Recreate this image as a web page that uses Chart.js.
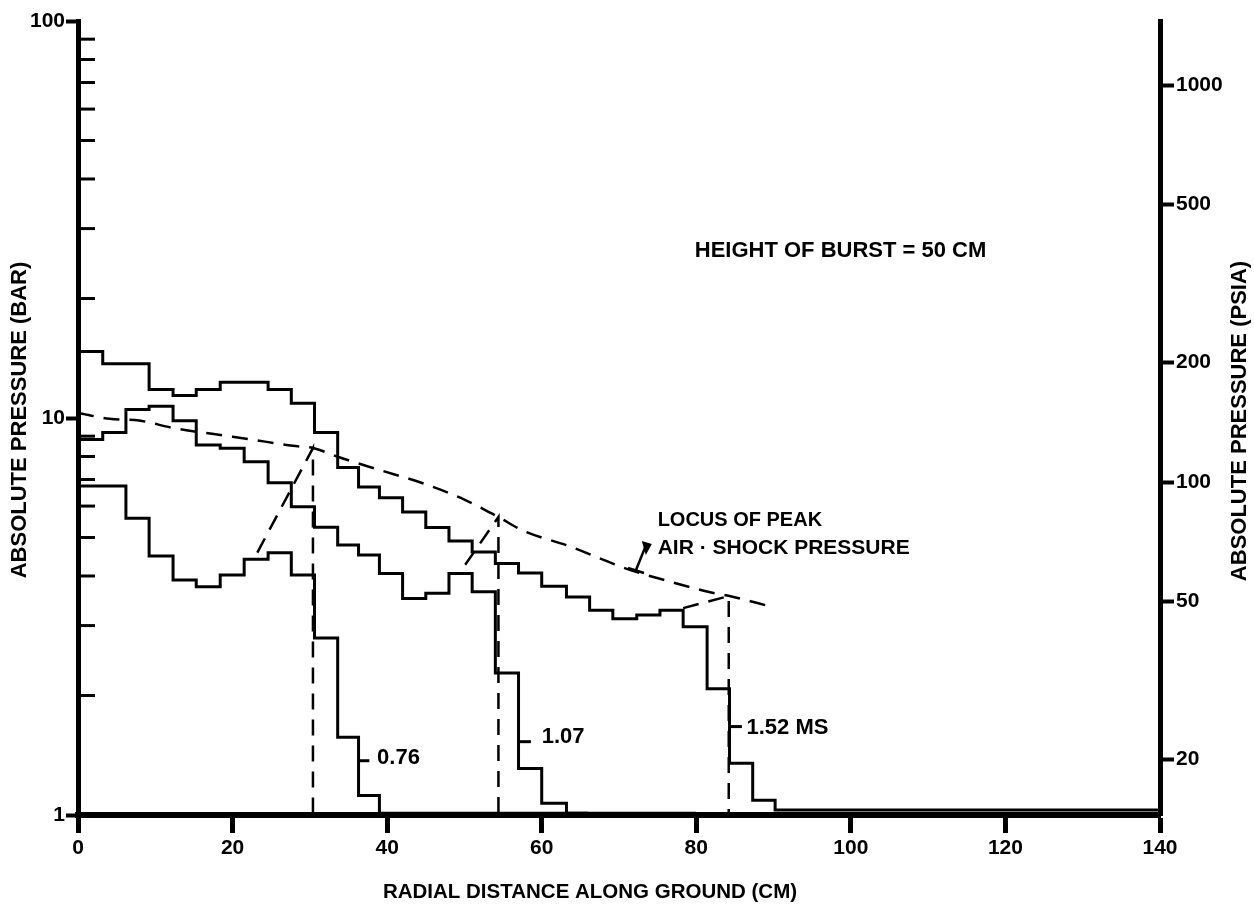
<!DOCTYPE html>
<html>
<head>
<meta charset="utf-8">
<script src="https://cdn.jsdelivr.net/npm/chart.js@4.4.1/dist/chart.umd.min.js"></script>
<style>
  html, body { margin: 0; padding: 0; background: #fff; }
  #wrap { width: 1254px; height: 908px; }
</style>
</head>
<body>
<div id="wrap"><canvas id="burstChart" width="1254" height="908"></canvas></div>
<script>
// radial distance (cm) where the measured histograms step
const binEdges = [0, 3.2, 6.2, 9.2, 12.3, 15.3, 18.4, 21.5, 24.6, 27.6, 30.6, 33.6, 36.3, 39.0, 42.0,
  45.0, 48.0, 51.0, 54.0, 57.0, 60.0, 63.2, 66.2, 69.2, 72.3, 75.3, 78.3, 81.4, 84.3, 87.3, 90.2];

// absolute pressure (bar) per bin, one list per time
const p076 = [6.74, 6.74, 5.59, 4.49, 3.91, 3.76, 4.02, 4.41, 4.58, 4.02, 2.79, 1.57, 1.12];
const p107 = [8.83, 9.19, 10.5, 10.7, 9.84, 8.55, 8.39, 7.76, 6.87, 5.98, 5.31, 4.79, 4.52, 4.06,
  3.51, 3.62, 4.06, 3.65, 2.28, 1.31, 1.07];
const p152 = [14.7, 13.7, 13.7, 11.8, 11.4, 11.8, 12.3, 12.3, 11.8, 10.9, 9.2, 7.5, 6.7, 6.3, 5.8,
  5.3, 4.9, 4.6, 4.3, 4.07, 3.77, 3.54, 3.28, 3.12, 3.19, 3.28, 2.98, 2.08, 1.35, 1.09];

// tail of each trace along the ground (value, last x)
const tail076 = [1.01, 66];
const tail107 = [1.01, 80];
const tail152 = [1.03, 140];

// locus of peak air-shock pressure
const locusX = [0, 4.1, 7.9, 12.3, 20, 24.2, 27.8, 30.4, 33.9, 39, 44.5, 50, 54.4, 57.6, 63.5, 71, 76.2, 81.8, 84.3, 89.9];
const locusY = [10.3, 9.95, 9.85, 9.44, 8.97, 8.72, 8.51, 8.4, 7.95, 7.4, 6.86, 6.23, 5.63, 5.2, 4.76, 4.17, 3.89, 3.64, 3.56, 3.34];

// dashed shock fronts: [foot x, foot y, peak x, peak y]
const fronts = [
  [23.2, 4.58, 30.4, 8.4],
  [50.1, 4.27, 54.4, 5.63],
  [78.3, 3.32, 84.2, 3.56]
];

const leftTicks = [1, 10, 100];
const leftMinor = [2, 3, 4, 5, 6, 7, 8, 9, 20, 30, 40, 50, 60, 70, 80, 90];
const psiaTicks = [20, 50, 100, 200, 500, 1000];
const BAR_TO_PSI = 14.5038;

const notes = [
  { text: 'HEIGHT OF BURST = 50 CM', x: 79.8, y: 26.3, size: 22 },
  { text: 'LOCUS OF PEAK', x: 75.0, y: 5.53, size: 20 },
  { text: 'AIR \u00B7 SHOCK PRESSURE', x: 75.0, y: 4.70, size: 21 },
  { text: '0.76', x: 38.7, y: 1.39, size: 22 },
  { text: '1.07', x: 60.0, y: 1.57, size: 22 },
  { text: '1.52 MS', x: 86.5, y: 1.66, size: 22 }
];
// short leaders from the trace to its time label: [x from, x to, y]
const leaders = [[36.3, 37.7, 1.37], [57.0, 58.6, 1.53], [84.3, 85.9, 1.67]];

const FAMILY = '"Liberation Sans", Arial, sans-serif';

function stepPoints(values, tail) {
  const pts = [];
  values.forEach((v, i) => {
    pts.push({ x: binEdges[i], y: v });
    pts.push({ x: binEdges[i + 1], y: v });
  });
  pts.push({ x: binEdges[values.length], y: tail[0] });
  pts.push({ x: tail[1], y: tail[0] });
  return pts;
}

const solid = { borderColor: '#000', borderWidth: 3, pointRadius: 0, fill: false, tension: 0 };
const dashed = { borderColor: '#000', borderWidth: 2.5, pointRadius: 0, fill: false, borderDash: [16, 10] };

const datasets = [
  Object.assign({ label: '0.76', data: stepPoints(p076, tail076) }, solid),
  Object.assign({ label: '1.07', data: stepPoints(p107, tail107) }, solid),
  Object.assign({ label: '1.52', data: stepPoints(p152, tail152) }, solid),
  Object.assign({ label: 'locus', data: locusX.map((x, i) => ({ x: x, y: locusY[i] })),
    cubicInterpolationMode: 'monotone' }, dashed)
];
fronts.forEach(f => {
  datasets.push(Object.assign({ label: 'front', data: [{ x: f[0], y: f[1] }, { x: f[2], y: f[3] }, { x: f[2], y: 1 }] }, dashed));
});

// text, minor ticks, leaders and axis titles
const decorPlugin = {
  id: 'decor',
  afterDraw(chart) {
    const ctx = chart.ctx;
    const xs = chart.scales.x, ys = chart.scales.y;
    const area = chart.chartArea;
    ctx.save();
    ctx.strokeStyle = '#000';
    ctx.fillStyle = '#000';

    // minor ticks inside the left axis
    ctx.lineWidth = 3;
    leftMinor.forEach(v => {
      const py = ys.getPixelForValue(v);
      ctx.beginPath();
      ctx.moveTo(area.left, py);
      ctx.lineTo(area.left + 17, py);
      ctx.stroke();
    });

    // leaders
    leaders.forEach(l => {
      const py = ys.getPixelForValue(l[2]);
      ctx.beginPath();
      ctx.moveTo(xs.getPixelForValue(l[0]), py);
      ctx.lineTo(xs.getPixelForValue(l[1]), py);
      ctx.stroke();
    });

    // pointer from the locus label to the dashed curve
    const ax = xs.getPixelForValue(72.2), ay = ys.getPixelForValue(4.14);
    const bx = xs.getPixelForValue(73.6), by = ys.getPixelForValue(4.84);
    ctx.lineWidth = 2.5;
    ctx.beginPath();
    ctx.moveTo(ax, ay);
    ctx.lineTo(bx, by);
    ctx.stroke();
    ctx.beginPath();
    ctx.moveTo(ax - 8, ay - 2);
    ctx.lineTo(ax + 8, ay + 3);
    ctx.stroke();
    ctx.beginPath();
    ctx.moveTo(bx - 5, by - 2);
    ctx.lineTo(bx + 5, by + 1);
    ctx.lineTo(bx - 1, by + 12);
    ctx.closePath();
    ctx.fill();

    // annotations
    ctx.textAlign = 'left';
    ctx.textBaseline = 'middle';
    notes.forEach(n => {
      ctx.font = 'bold ' + n.size + 'px ' + FAMILY;
      ctx.fillText(n.text, xs.getPixelForValue(n.x), ys.getPixelForValue(n.y));
    });

    // axis titles
    ctx.textAlign = 'center';
    ctx.font = 'bold 20.5px ' + FAMILY;
    ctx.fillText('RADIAL DISTANCE ALONG GROUND (CM)', 590, 892);
    ctx.font = 'bold 22px ' + FAMILY;
    ctx.save();
    ctx.translate(20, 420);
    ctx.rotate(-Math.PI / 2);
    ctx.fillText('ABSOLUTE PRESSURE (BAR)', 0, 0);
    ctx.restore();
    ctx.save();
    ctx.translate(1240, 421);
    ctx.rotate(-Math.PI / 2);
    ctx.fillText('ABSOLUTE PRESSURE (PSIA)', 0, 0);
    ctx.restore();

    ctx.restore();
  }
};

const tickFont = { family: FAMILY, size: 21, weight: 'bold' };

new Chart(document.getElementById('burstChart').getContext('2d'), {
  type: 'line',
  data: { datasets: datasets },
  options: {
    responsive: false,
    animation: false,
    layout: { padding: { top: 21, left: 0, right: 0, bottom: 0 } },
    plugins: { legend: { display: false }, tooltip: { enabled: false } },
    elements: { point: { radius: 0 } },
    scales: {
      x: {
        type: 'linear', min: 0, max: 140,
        ticks: { stepSize: 20, color: '#000', font: tickFont, padding: 3, maxRotation: 0 },
        grid: { drawOnChartArea: false, tickLength: 18, tickWidth: 5, tickColor: '#000' },
        border: { display: true, width: 6, color: '#000' },
        afterFit: s => { s.height = 93; }
      },
      y: {
        type: 'logarithmic', position: 'left', min: 1, max: 100,
        afterBuildTicks: s => { s.ticks = leftTicks.map(v => ({ value: v })); },
        ticks: { color: '#000', font: tickFont, padding: 1, callback: v => String(v) },
        grid: { drawOnChartArea: false, tickLength: 12, tickWidth: 4, tickColor: '#000' },
        border: { display: true, width: 5, color: '#000' },
        afterFit: s => { s.width = 78; }
      },
      y2: {
        type: 'logarithmic', position: 'right', min: BAR_TO_PSI, max: 100 * BAR_TO_PSI,
        afterBuildTicks: s => { s.ticks = psiaTicks.map(v => ({ value: v })); },
        ticks: { color: '#000', font: tickFont, padding: 2, callback: v => String(v) },
        grid: { drawOnChartArea: false, tickLength: 14, tickWidth: 4, tickColor: '#000' },
        border: { display: true, width: 5, color: '#000' },
        afterFit: s => { s.width = 94; }
      }
    }
  },
  plugins: [decorPlugin]
});
</script>
</body>
</html>
